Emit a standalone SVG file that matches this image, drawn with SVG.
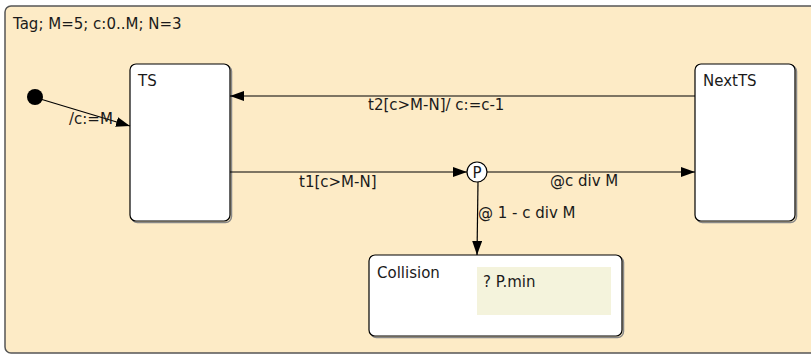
<svg xmlns="http://www.w3.org/2000/svg" width="811" height="354" viewBox="0 0 811 354">
<style>
.t{font-family:"DejaVu Sans",Verdana,sans-serif;font-size:15px;fill:#1a1a1a}
.st{fill:#fff;stroke:#000;stroke-width:1.2}
.sh{fill:none;stroke:#888;stroke-width:1.5}
.c{stroke:#000;stroke-width:1.2;fill:none}
</style>
<defs>
<marker id="a" markerWidth="14" markerHeight="10" refX="14" refY="5" orient="auto" markerUnits="userSpaceOnUse">
<path d="M0,0 L14,5 L0,10 Z" fill="#000"/>
</marker>
</defs>
<g id="frame">
<rect x="5" y="6" width="812" height="347" rx="6" fill="#fdebc6" stroke="#555" stroke-width="1.5"/>
<text class="t" x="13" y="29">Tag; M=5; c:0..M; N=3</text>
</g>
<g id="init">
<circle cx="35" cy="97" r="8" fill="#000"/>
</g>
<g id="TS">
<rect class="sh" x="131.5" y="65.5" width="100" height="157" rx="6"/>
<rect class="st" x="130" y="64" width="100" height="157" rx="6"/>
<text class="t" x="138" y="86">TS</text>
</g>
<g id="NextTS">
<rect class="sh" x="696.5" y="65.5" width="100" height="157" rx="6"/>
<rect class="st" x="695" y="64" width="100" height="157" rx="6"/>
<text class="t" x="703" y="86">NextTS</text>
</g>
<g id="Collision">
<rect class="sh" x="370.5" y="256.5" width="253" height="81" rx="6"/>
<rect class="st" x="369" y="255" width="253" height="81" rx="6"/>
<text class="t" x="377" y="278">Collision</text>
<rect x="477" y="267" width="134" height="48" fill="#f4f3dc"/>
<text class="t" x="483" y="287">? P.min</text>
</g>
<g id="P">
<circle cx="477" cy="172" r="10" fill="#fff" stroke="#000" stroke-width="1.2"/>
<text class="t" x="477" y="177.5" text-anchor="middle" style="font-size:15px">P</text>
</g>
<g id="connectors">
<line class="c" x1="37" y1="98" x2="130" y2="126" marker-end="url(#a)"/>
<line class="c" x1="695" y1="96" x2="230" y2="96" marker-end="url(#a)"/>
<line class="c" x1="230" y1="172" x2="467" y2="172" marker-end="url(#a)"/>
<line class="c" x1="487" y1="172" x2="695" y2="172" marker-end="url(#a)"/>
<line class="c" x1="478" y1="182" x2="477" y2="255" marker-end="url(#a)"/>
<text class="t" x="69" y="124">/c:=M</text>
<text class="t" x="368" y="110">t2[c&gt;M-N]/ c:=c-1</text>
<text class="t" x="299" y="187">t1[c&gt;M-N]</text>
<text class="t" x="550" y="186">@c div M</text>
<text class="t" x="478" y="218">@ 1 - c div M</text>
</g>
</svg>
